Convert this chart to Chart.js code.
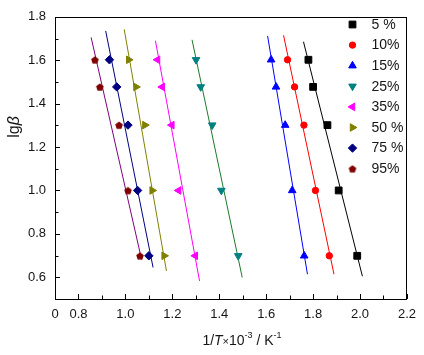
<!DOCTYPE html>
<html><head><meta charset="utf-8">
<script src="https://cdn.jsdelivr.net/npm/chart.js"></script>
<style>html,body{margin:0;padding:0;background:#fff}</style>
</head><body>
<canvas id="c" width="424" height="355"></canvas>
<script>
// ---- data ----
const seriesNames = ["5 %", "10%", "15%", "25%", "35%", "50 %", "75 %", "95%"];
const lgBeta = [1.602, 1.477, 1.301, 1.0, 0.699];
const invT_5  = [1.780, 1.800, 1.861, 1.909, 1.988];
const invT_10 = [1.691, 1.721, 1.761, 1.810, 1.869];
const invT_15 = [1.621, 1.642, 1.681, 1.711, 1.762];
const invT_25 = [1.301, 1.321, 1.370, 1.409, 1.481];
const invT_35 = [1.137, 1.157, 1.198, 1.227, 1.298];
const invT_50 = [1.014, 1.045, 1.083, 1.114, 1.165];
const invT_75 = [0.932, 0.963, 1.011, 1.052, 1.100];
const invT_95 = [0.870, 0.891, 0.973, 1.011, 1.062];
// fitted line end points [x, y] (top, bottom)
const fit_5  = [[1.759, 1.685], [2.010, 0.605]];
const fit_10 = [[1.674, 1.715], [1.889, 0.614]];
const fit_15 = [[1.606, 1.712], [1.776, 0.614]];
const fit_25 = [[1.284, 1.694], [1.498, 0.599]];
const fit_35 = [[1.128, 1.690], [1.316, 0.583]];
const fit_50 = [[0.995, 1.742], [1.175, 0.629]];
const fit_75 = [[0.916, 1.735], [1.118, 0.645]];
const fit_95 = [[0.854, 1.705], [1.069, 0.682]];
const xTickValues = [0.7, 0.8, 1.0, 1.2, 1.4, 1.6, 1.8, 2.0, 2.2];
const xTickLabels = ["0", "0.8", "1.0", "1.2", "1.4", "1.6", "1.8", "2.0", "2.2"];
const xMinorTicks = [0.9, 1.1, 1.3, 1.5, 1.7, 1.9, 2.1];
const yTickValues = [0.6, 0.8, 1.0, 1.2, 1.4, 1.6, 1.8];
const yTickLabels = ["0.6", "0.8", "1.0", "1.2", "1.4", "1.6", "1.8"];
const yMinorTicks = [0.5, 0.7, 0.9, 1.1, 1.3, 1.5, 1.7];

// ---- styles ----
function pentagon(color, r) {
  const s = Math.ceil(r * 2 + 2), c = document.createElement('canvas');
  c.width = s; c.height = s;
  const g = c.getContext('2d');
  g.fillStyle = color; g.beginPath();
  for (let i = 0; i < 5; i++) {
    const a = -Math.PI / 2 + i * 2 * Math.PI / 5;
    const px = s / 2 + r * Math.cos(a), py = s / 2 + r * Math.sin(a) + 0.4;
    i ? g.lineTo(px, py) : g.moveTo(px, py);
  }
  g.closePath(); g.fill();
  return c;
}
const markerColors = ["#000000", "#ff0000", "#0000ff", "#008080", "#ff00ff", "#808000", "#000080", "#800000"];
const lineColors = ["#000000", "#ff0000", "#0000ff", "#1b7a2a", "#ff00ff", "#808000", "#000080", "#800080"];
const styles = [
  {pointStyle: 'rect', rotation: 0, radius: 4.8},
  {pointStyle: 'circle', rotation: 0, radius: 3.2},
  {pointStyle: 'triangle', rotation: 0, radius: 4.4},
  {pointStyle: 'triangle', rotation: 180, radius: 4.4},
  {pointStyle: 'triangle', rotation: 270, radius: 4.4},
  {pointStyle: 'triangle', rotation: 90, radius: 4.4},
  {pointStyle: 'rectRot', rotation: 0, radius: 4.2},
  {pointStyle: pentagon("#800000", 4.0), rotation: 0, radius: 4.2}
];

const allX = [invT_5, invT_10, invT_15, invT_25, invT_35, invT_50, invT_75, invT_95];
const allFit = [fit_5, fit_10, fit_15, fit_25, fit_35, fit_50, fit_75, fit_95];

const datasets = [];
allFit.forEach((f, i) => {
  datasets.push({
    label: seriesNames[i] + " fit",
    data: f.map(p => ({x: p[0], y: p[1]})),
    showLine: true, borderColor: lineColors[i], borderWidth: 1,
    pointRadius: 0, fill: false, order: 2
  });
});
allX.forEach((xs, i) => {
  datasets.push({
    label: seriesNames[i],
    data: xs.map((x, k) => ({x: x, y: lgBeta[k]})),
    showLine: false,
    backgroundColor: markerColors[i], borderColor: markerColors[i], borderWidth: 1,
    pointStyle: styles[i].pointStyle, rotation: styles[i].rotation,
    pointRadius: styles[i].radius, order: 1
  });
});

const FONT = '"Liberation Sans", Arial, sans-serif';
const TXT = '#151515';

function drawMarker(ctx, i, x, y) {
  const st = styles[i];
  if (Chart.helpers && Chart.helpers.drawPoint) {
    ctx.save();
    ctx.fillStyle = markerColors[i]; ctx.strokeStyle = markerColors[i]; ctx.lineWidth = 1;
    Chart.helpers.drawPoint(ctx, {pointStyle: st.pointStyle, rotation: st.rotation, radius: st.radius, borderWidth: 1}, x, y);
    ctx.restore();
  }
}

const framePlugin = {
  id: 'frame',
  afterDraw(chart) {
    const ctx = chart.ctx, a = chart.chartArea;
    const xs = chart.scales.x, ys = chart.scales.y;
    ctx.save();
    ctx.strokeStyle = '#000'; ctx.lineWidth = 1;
    ctx.strokeRect(Math.round(a.left) + 0.5, Math.round(a.top) + 0.5, Math.round(a.right - a.left) - 1, Math.round(a.bottom - a.top));
    ctx.beginPath();
    xTickValues.concat(xMinorTicks).forEach((v, k) => {
      const len = k < xTickValues.length ? 5 : 3.5;
      const px = Math.round(xs.getPixelForValue(v)) + 0.5;
      ctx.moveTo(px, a.bottom); ctx.lineTo(px, a.bottom - len);
    });
    yTickValues.concat(yMinorTicks).forEach((v, k) => {
      const len = k < yTickValues.length ? 5 : 3.5;
      const py = Math.round(ys.getPixelForValue(v)) + 0.5;
      ctx.moveTo(a.left, py); ctx.lineTo(a.left + len, py);
    });
    ctx.stroke();

    // legend
    ctx.font = '14px ' + FONT; ctx.fillStyle = TXT;
    ctx.textBaseline = 'middle'; ctx.textAlign = 'left';
    seriesNames.forEach((n, i) => {
      const y = 24.5 + i * 20.6;
      drawMarker(ctx, i, 352.5, y);
      ctx.fillStyle = TXT;
      ctx.fillText(n, 371.5, y + 0.5);
    });

    // x title
    ctx.textBaseline = 'alphabetic';
    const parts = [
      {t: '1/', f: '14px ' + FONT, dy: 0},
      {t: 'T', f: 'italic 14px ' + FONT, dy: 0},
      {t: '×', f: '11px ' + FONT, dy: 0},
      {t: '10', f: '14px ' + FONT, dy: 0},
      {t: '-3', f: '9px ' + FONT, dy: -7},
      {t: ' / K', f: '14px ' + FONT, dy: 0},
      {t: '-1', f: '9px ' + FONT, dy: -7}
    ];
    let w = 0;
    parts.forEach(p => { ctx.font = p.f; p.w = ctx.measureText(p.t).width; w += p.w; });
    let x0 = 242 - w / 2;
    parts.forEach(p => { ctx.font = p.f; ctx.fillText(p.t, x0, 345 + p.dy); x0 += p.w; });

    // y title
    ctx.save();
    ctx.translate(19, 127);
    ctx.rotate(-Math.PI / 2);
    const yp = [{t: 'lg', f: '16px ' + FONT}, {t: 'β', f: 'italic 16px ' + FONT}];
    let yw = 0;
    yp.forEach(p => { ctx.font = p.f; p.w = ctx.measureText(p.t).width; yw += p.w; });
    let y0 = -yw / 2;
    yp.forEach(p => { ctx.font = p.f; ctx.fillText(p.t, y0, 0); y0 += p.w; });
    ctx.restore();
    ctx.restore();
  }
};

new Chart(document.getElementById('c'), {
  type: 'scatter',
  data: {datasets},
  options: {
    responsive: false, animation: false, devicePixelRatio: 1,
    layout: {padding: {top: 13, right: 15, left: 0, bottom: 0}},
    plugins: {legend: {display: false}, tooltip: {enabled: false}},
    scales: {
      x: {
        type: 'linear', min: 0.7, max: 2.2,
        afterBuildTicks: s => { s.ticks = xTickValues.map(v => ({value: v})); },
        afterFit: s => { s.height = 56; },
        grid: {display: false, drawTicks: false},
        border: {display: false},
        ticks: {autoSkip: false, maxRotation: 0, padding: 8, color: TXT,
          font: {family: FONT, size: 13},
          callback: (v, i) => xTickLabels[i]}
      },
      y: {
        type: 'linear', min: 0.5, max: 1.8,
        afterBuildTicks: s => { s.ticks = yTickValues.map(v => ({value: v})); },
        afterFit: s => { s.width = 55; },
        grid: {display: false, drawTicks: false},
        border: {display: false},
        ticks: {autoSkip: false, padding: 9, color: TXT,
          font: {family: FONT, size: 13},
          callback: (v, i) => yTickLabels[i]}
      }
    }
  },
  plugins: [framePlugin]
});
</script>
</body></html>
